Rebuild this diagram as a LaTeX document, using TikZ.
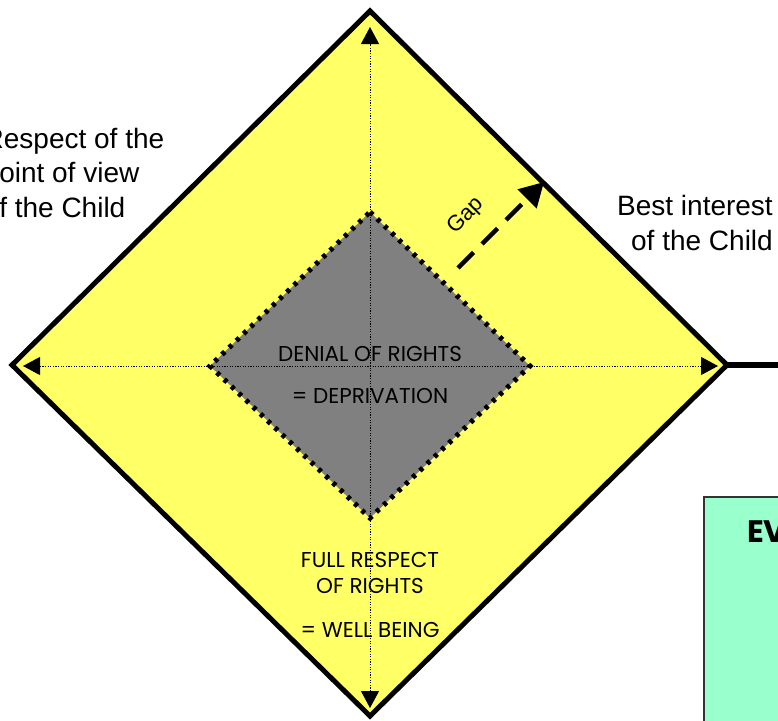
\documentclass[tikz,border=0pt]{standalone}
\usepackage{fontspec}
\setmainfont{Liberation Sans}
\newfontfamily\geo{Poppins}
\usetikzlibrary{arrows.meta}
\definecolor{dyellow}{RGB}{255,255,102}
\definecolor{dgray}{RGB}{128,128,128}
\definecolor{dgreen}{RGB}{153,255,204}
\begin{document}
\begin{tikzpicture}[x=1pt,y=-1pt,
  outerdiamond/.style={fill=dyellow, draw=black, line width=5pt, line join=miter},
  innerfill/.style={fill=dgray},
  innerborder/.style={draw=black, line width=5pt, dash pattern=on 4pt off 6pt},
  axisline/.style={line width=1pt, dash pattern=on 1.2pt off 1.4pt,
     {Triangle[length=17pt,width=18pt]}-{Triangle[length=17pt,width=18pt]}},
  gaparrow/.style={line width=4.5pt, dash pattern=on 22pt off 12pt,
     -{Triangle[length=24pt,width=26pt]}},
  sidetext/.style={font=\fontsize{28}{34.5}\selectfont, inner sep=0pt},
  capstext/.style={font=\geo\fontsize{21.5}{25}\selectfont, inner sep=0pt, anchor=base},
]
\useasboundingbox (0,0) rectangle (778,720);
\clip (0,0) rectangle (778,720);

% coordinates
\coordinate (OT) at (370,11);
\coordinate (OR) at (727,365);
\coordinate (OB) at (370,716);
\coordinate (OL) at (12,365);
\coordinate (IT) at (370,212);
\coordinate (IR) at (530,366);
\coordinate (IB) at (370,518);
\coordinate (IL) at (210,366);
\coordinate (AT) at (370,27);
\coordinate (AB) at (370,708);
\coordinate (AL) at (23,366);
\coordinate (AR) at (718,366);
\coordinate (rend) at (790,365);
\coordinate (gs) at (458,268);
\coordinate (ge) at (544,182);

% green box
\draw[fill=dgreen, draw=black!80, line width=1.5pt] (704,497) rectangle (800,740);
\node[font=\geo\bfseries\fontsize{31}{36}\selectfont, anchor=base west, inner sep=0pt] (ev) at (747,542) {EV};

% right line
\draw[line width=5.5pt] (OR) -- (rend);

% outer diamond
\draw[outerdiamond] (OT) -- (OR) -- (OB) -- (OL) -- cycle;
% inner diamond fill
\fill[innerfill] (IT) -- (IR) -- (IB) -- (IL) -- cycle;
% axes
\draw[axisline] (AB) -- (AT);
\draw[axisline] (AL) -- (AR);
% inner border
\draw[innerborder] (IT) -- (IR) -- (IB) -- (IL) -- cycle;

% gap arrow
\draw[gaparrow] (gs) -- (ge);
\node[font=\fontsize{22}{26}\selectfont, rotate=45, inner sep=0pt] (gap) at (466,216) {Gap};

% side texts (base anchor = last line)
\node[sidetext, anchor=base west, align=left] (lefttxt) at (-16.5,217) {Respect of the\\point of view\\of the Child};
\node[sidetext, anchor=base east, align=right] (righttxt) at (773,250) {Best interest\\of the Child};

% inner texts
\node[capstext] (denial) at (370,361) {DENIAL OF RIGHTS};
\node[capstext] (depr) at (370,403) {= DEPRIVATION};
\node[capstext] (full) at (370,567) {FULL RESPECT};
\node[capstext] (ofr) at (370,593) {OF RIGHTS};
\node[capstext] (well) at (370,637) {= WELL BEING};
\end{tikzpicture}
\end{document}
